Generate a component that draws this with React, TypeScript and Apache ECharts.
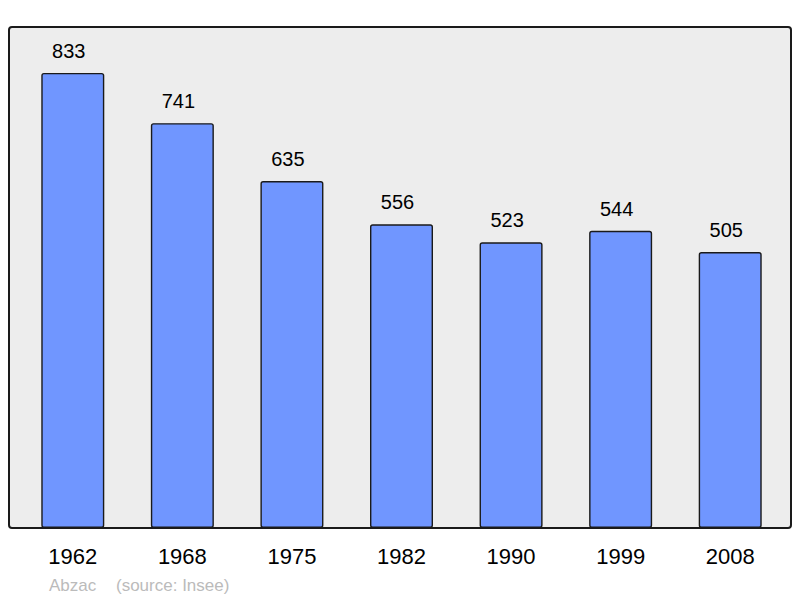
import React, { useEffect, useRef } from "react";
import * as echarts from "echarts";

const years = ["1962", "1968", "1975", "1982", "1990", "1999", "2008"];
const population = [833, 741, 635, 556, 523, 544, 505];
const commune = "Abzac";
const source = "(source: Insee)";

const FONT = "'Liberation Sans', Arial, Helvetica, sans-serif";

export default function App() {
  const ref = useRef<HTMLDivElement>(null);
  useEffect(() => {
    if (!ref.current) return;
    const chart = echarts.init(ref.current, undefined, { renderer: "svg" });
    chart.setOption({
      animation: false,
      backgroundColor: "#ffffff",
      grid: { left: 18, right: 15, top: 27, bottom: 70 },
      xAxis: {
        type: "category",
        data: years,
        axisLine: { show: false },
        axisTick: { show: false },
        axisLabel: { color: "#000000", fontSize: 22, fontFamily: FONT, margin: 17 },
      },
      yAxis: {
        type: "value",
        min: 0,
        max: 917,
        show: false,
        splitLine: { show: false },
      },
      graphic: [
        {
          type: "rect",
          z: -10,
          silent: true,
          shape: { x: 9, y: 27, width: 782, height: 501, r: 3 },
          style: { fill: "#ededed", stroke: "#1a1a1a", lineWidth: 2 },
        },
        {
          type: "text",
          left: 49,
          top: 577,
          silent: true,
          style: { text: commune, fill: "#bbbbbb", fontSize: 17, fontFamily: FONT },
        },
        {
          type: "text",
          left: 116,
          top: 577,
          silent: true,
          style: { text: source, fill: "#bbbbbb", fontSize: 17, fontFamily: FONT },
        },
      ],
      series: [
        {
          type: "bar",
          data: population,
          barWidth: 63,
          itemStyle: {
            color: "#7096ff",
            borderColor: "#1a1a1a",
            borderWidth: 1.4,
            borderRadius: 2,
          },
          label: {
            show: true,
            position: "top",
            distance: 12,
            offset: [-4, 0],
            color: "#000000",
            fontSize: 20,
            fontFamily: FONT,
          },
        },
      ],
    });
    return () => chart.dispose();
  }, []);
  return (
    <div
      ref={ref}
      style={{ position: "fixed", left: 0, top: 0, width: 800, height: 598 }}
    />
  );
}
